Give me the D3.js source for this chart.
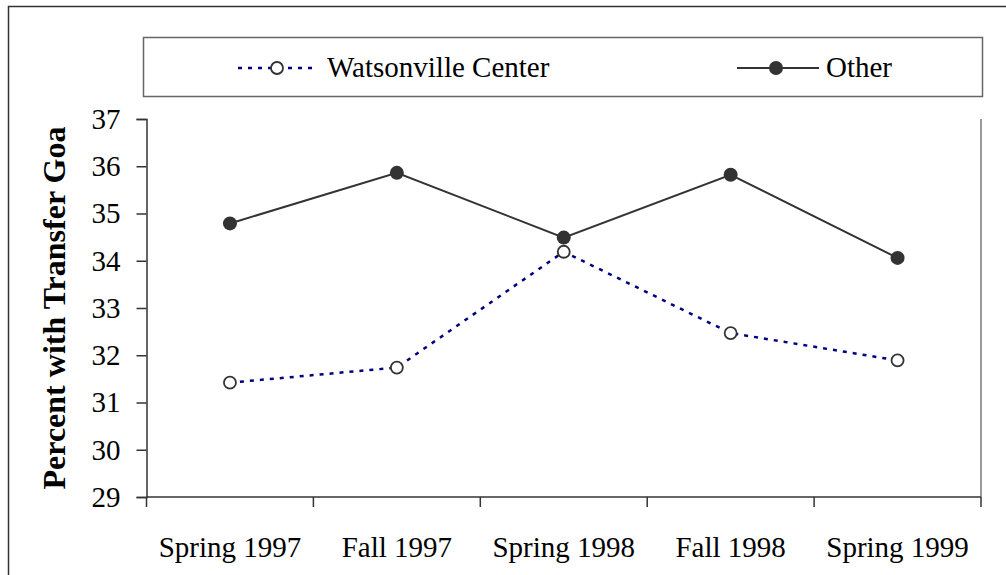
<html>
<head>
<title>Percent with Transfer Goal</title>
<script src="https://cdn.jsdelivr.net/npm/d3@7"></script>
<style>
  * { margin: 0; padding: 0; }
  body { background: #fff; }
</style>
</head>
<body>
<div id="chart"></div>
<script>
  var terms = ["Spring 1997", "Fall 1997", "Spring 1998", "Fall 1998", "Spring 1999"];
  var watsonville = [31.42, 31.74, 34.19, 32.47, 31.89];
  var other = [34.79, 35.86, 34.49, 35.82, 34.06];
  var yTicks = [29, 30, 31, 32, 33, 34, 35, 36, 37];

  var serif = "'Liberation Serif', 'Times New Roman', 'DejaVu Serif', serif";
  var width = 1006, height = 575;
  var plot = {left: 146.5, right: 981, top: 119, bottom: 497};

  var svg = d3.select("#chart").append("svg")
      .attr("width", width)
      .attr("height", height)
      .style("font-family", serif);

  // outer chart border (runs off the right and bottom edge)
  svg.append("rect")
    .attr("x", 8.5).attr("y", 6.5)
    .attr("width", 1010).attr("height", 590)
    .attr("fill", "#fff")
    .attr("stroke", "#333")
    .attr("stroke-width", 1.5);

  var x = d3.scaleBand().domain(terms).range([plot.left, plot.right]);
  var y = d3.scaleLinear().domain([29, 37]).range([plot.bottom, plot.top]);
  var cx = function(d, i) { return x(terms[i]) + x.bandwidth() / 2; };

  // plot area right edge
  svg.append("line")
    .attr("x1", plot.right).attr("x2", plot.right)
    .attr("y1", plot.top).attr("y2", plot.bottom)
    .attr("stroke", "#999").attr("stroke-width", 2);

  // y axis
  var yAxis = svg.append("g")
    .attr("transform", "translate(" + plot.left + ",0)")
    .call(d3.axisLeft(y).tickValues(yTicks).tickSize(10).tickPadding(16));
  yAxis.attr("font-family", null).attr("font-size", null);
  yAxis.select(".domain").attr("stroke", "#333").attr("stroke-width", 1.5);
  yAxis.selectAll(".tick line").attr("stroke", "#333").attr("stroke-width", 1.5);
  yAxis.selectAll(".tick text")
    .style("font-family", serif)
    .style("font-size", "29px")
    .attr("fill", "#000");

  // x axis: ticks sit between categories
  var xAxis = svg.append("g")
    .attr("transform", "translate(0," + plot.bottom + ")");
  xAxis.append("line")
    .attr("x1", plot.left).attr("x2", plot.right)
    .attr("stroke", "#333").attr("stroke-width", 1.5);
  var bounds = terms.map(function(t) { return x(t); }).concat([x(terms[terms.length - 1]) + x.bandwidth()]);
  xAxis.selectAll(".xt").data(bounds).enter().append("line")
    .attr("x1", function(d) { return d; }).attr("x2", function(d) { return d; })
    .attr("y1", 0).attr("y2", 10)
    .attr("stroke", "#333").attr("stroke-width", 1.5);
  xAxis.selectAll(".xl").data(terms).enter().append("text")
    .attr("x", function(d) { return x(d) + x.bandwidth() / 2; })
    .attr("y", 60)
    .attr("text-anchor", "middle")
    .style("font-family", serif)
    .style("font-size", "29px")
    .text(function(d) { return d; });

  // y axis title
  svg.append("text")
    .attr("transform", "translate(65," + ((plot.top + plot.bottom) / 2) + ") rotate(-90)")
    .attr("text-anchor", "middle")
    .style("font-family", serif)
    .style("font-size", "32px")
    .style("font-weight", "bold")
    .text("Percent with Transfer Goa");

  var line = d3.line().x(cx).y(function(d) { return y(d); });

  // Other
  svg.append("path").datum(other)
    .attr("d", line)
    .attr("fill", "none")
    .attr("stroke", "#333")
    .attr("stroke-width", 2);
  svg.selectAll(".odot").data(other).enter().append("circle")
    .attr("cx", cx).attr("cy", function(d) { return y(d); })
    .attr("r", 7)
    .attr("fill", "#333");

  // Watsonville Center
  svg.append("path").datum(watsonville)
    .attr("d", line)
    .attr("fill", "none")
    .attr("stroke", "#000080")
    .attr("stroke-width", 2.5)
    .attr("stroke-dasharray", "4,6");
  svg.selectAll(".wdot").data(watsonville).enter().append("circle")
    .attr("cx", cx).attr("cy", function(d) { return y(d); })
    .attr("r", 6)
    .attr("fill", "#fff")
    .attr("stroke", "#333")
    .attr("stroke-width", 1.8);

  // legend
  var legend = svg.append("g");
  legend.append("rect")
    .attr("x", 143.5).attr("y", 37.5)
    .attr("width", 839).attr("height", 59)
    .attr("fill", "#fff")
    .attr("stroke", "#666")
    .attr("stroke-width", 1.5);

  legend.append("line")
    .attr("x1", 238).attr("x2", 316).attr("y1", 68).attr("y2", 68)
    .attr("stroke", "#000080").attr("stroke-width", 2.5)
    .attr("stroke-dasharray", "4,6");
  legend.append("circle")
    .attr("cx", 277).attr("cy", 68).attr("r", 6)
    .attr("fill", "#fff").attr("stroke", "#333").attr("stroke-width", 1.8);
  legend.append("text")
    .attr("x", 327).attr("y", 77)
    .style("font-family", serif)
    .style("font-size", "29px")
    .text("Watsonville Center");

  legend.append("line")
    .attr("x1", 737).attr("x2", 819).attr("y1", 68).attr("y2", 68)
    .attr("stroke", "#333").attr("stroke-width", 2);
  legend.append("circle")
    .attr("cx", 776).attr("cy", 68).attr("r", 7)
    .attr("fill", "#333");
  legend.append("text")
    .attr("x", 826).attr("y", 77)
    .style("font-family", serif)
    .style("font-size", "29px")
    .text("Other");
</script>
</body>
</html>
